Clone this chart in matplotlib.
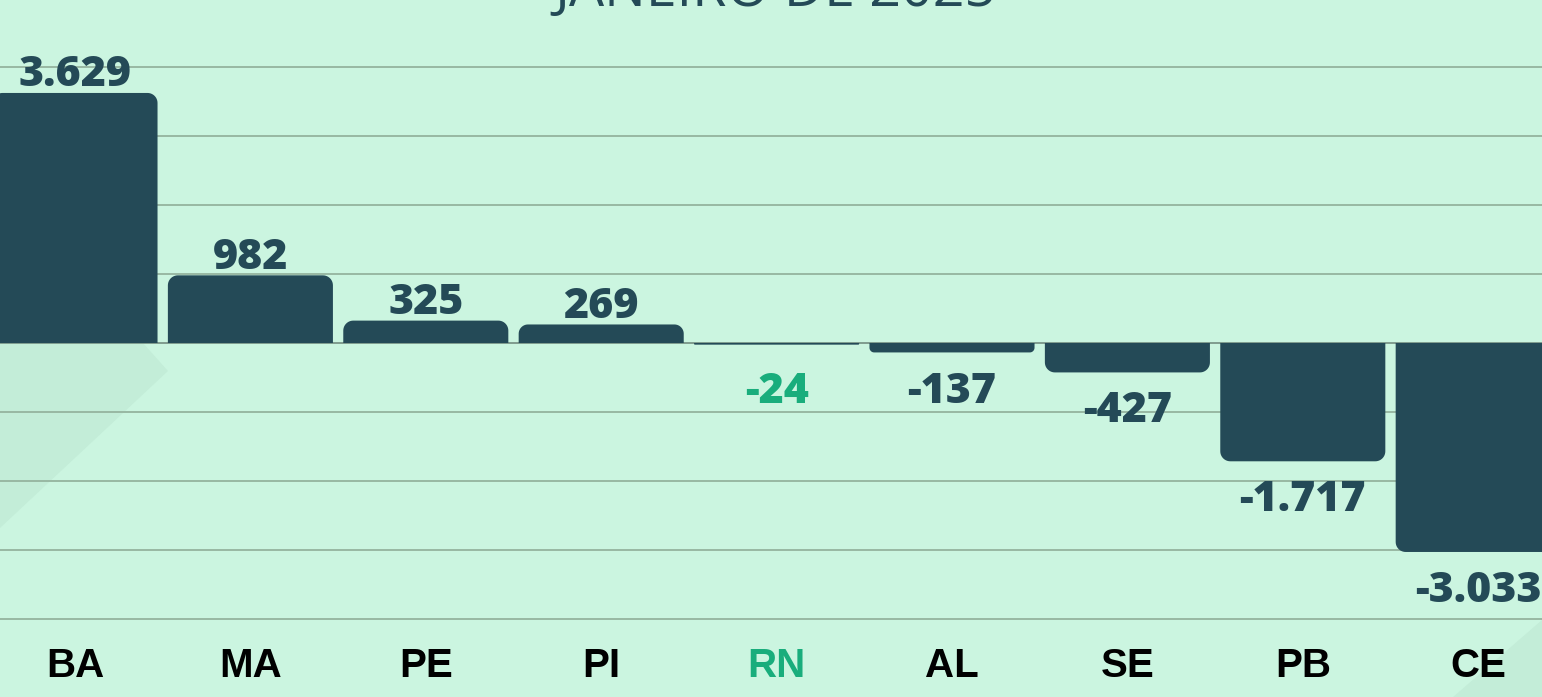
import matplotlib
matplotlib.use("Agg")
import numpy as np
import matplotlib.pyplot as plt
from matplotlib.patches import Polygon

# saldo de empregos por estado - janeiro de 2025
estados = ['BA', 'MA', 'PE', 'PI', 'RN', 'AL', 'SE', 'PB', 'CE']
saldo = [3629, 982, 325, 269, -24, -137, -427, -1717, -3033]
destaque = 'RN'
titulo = 'JANEIRO DE 2025'

FUNDO = '#CBF5E0'
FUNDO_ESCURO = '#C3EDD8'
BARRA = '#244A57'
VERDE = '#19AD7C'
GRADE = '#98B8A3'

W, H = 1542, 697
fig = plt.figure(figsize=(W / 100, H / 100), dpi=100)
fig.patch.set_facecolor(FUNDO)
ax = fig.add_axes([0, 0, 1, 1])
ax.set_facecolor(FUNDO)
for s in ax.spines.values():
    s.set_visible(False)
ax.set_xticks([])
ax.set_yticks([])

# escalas: 175.4 px por barra, 1000 unidades = 68.9 px
px_x = 1 / 175.4
px_y = 1000 / 68.9
x0 = -75 * px_x
ax.set_xlim(x0, x0 + W * px_x)
ax.set_ylim(-(H - 343) * px_y, 343 * px_y)


def fmt(v):
    return f"{v:,}".replace(',', '.')


# formas decorativas do fundo (coordenadas em pixels da figura)
def fr(pts):
    return [(x / W, 1 - y / H) for x, y in pts]


ax.add_patch(Polygon(fr([(0, 343), (143, 343), (168, 371), (0, 528)]),
                     closed=True, transform=ax.transAxes, facecolor=FUNDO_ESCURO,
                     edgecolor='none', zorder=0))
ax.add_patch(Polygon(fr([(1542, 620), (1542, 697), (1453, 697)]),
                     closed=True, transform=ax.transAxes, facecolor=FUNDO_ESCURO,
                     edgecolor='none', zorder=0))

# linhas de grade
for g in range(-4000, 4001, 1000):
    cor = '#7F9C8E' if g == 0 else GRADE
    ax.axhline(g, color=cor, lw=1.4, zorder=1)


def barra_arredondada(xc, v, larg, r_px=10):
    # cantos arredondados so na ponta externa da barra
    sinal = 1 if v >= 0 else -1
    r = min(r_px, abs(v) / px_y / 2)
    rx, ry = r * px_x, r * px_y
    esq, dir_ = xc - larg / 2, xc + larg / 2
    cy = v - sinal * ry
    pts = [(esq, 0)]
    for a in np.linspace(np.pi, np.pi / 2, 12):
        pts.append((esq + rx + rx * np.cos(a), cy + sinal * ry * np.sin(a)))
    for a in np.linspace(np.pi / 2, 0, 12):
        pts.append((dir_ - rx + rx * np.cos(a), cy + sinal * ry * np.sin(a)))
    pts.append((dir_, 0))
    return Polygon(pts, closed=True, facecolor=BARRA, edgecolor='none', zorder=2)


larg = 0.941
for i, (est, v) in enumerate(zip(estados, saldo)):
    ax.add_patch(barra_arredondada(i, v, larg))
    cor_txt = VERDE if est == destaque else BARRA
    if v >= 0:
        ax.annotate(fmt(v), (i, v), xytext=(0, -2.5), textcoords='offset points',
                    ha='center', va='bottom', fontsize=31, fontweight=800,
                    family='Open Sans', color=cor_txt, zorder=3)
    else:
        ax.annotate(fmt(v), (i, min(v, -150)), xytext=(0, -13), textcoords='offset points',
                    ha='center', va='top', fontsize=31, fontweight=800,
                    family='Open Sans', color=cor_txt, zorder=3)
    ax.text(i, -(666 - 343) * px_y, est, ha='center', va='center', fontsize=29,
            fontweight='bold', family='Liberation Sans',
            color=VERDE if est == destaque else 'black', zorder=3)

fig.text(775 / W, 1 - 6 / H, titulo, ha='center', va='baseline', fontsize=40,
         family='Open Sans', color=BARRA)

fig.savefig('out.png', dpi=100, facecolor=FUNDO)
